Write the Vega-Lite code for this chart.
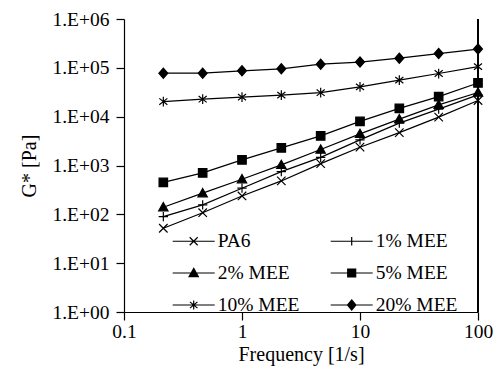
{
  "$schema": "https://vega.github.io/schema/vega-lite/v6.json",
  "width": 354,
  "height": 293,
  "autosize": "none",
  "padding": {"left": 124, "top": 19, "right": 21, "bottom": 63},
  "background": "white",
  "config": {
    "view": {"stroke": null},
    "font": "Liberation Serif",
    "axis": {
      "grid": false,
      "domainColor": "black",
      "domainWidth": 1.2,
      "tickColor": "black",
      "tickWidth": 1.2,
      "tickSize": 8,
      "labelColor": "black",
      "labelFont": "Liberation Serif",
      "labelFontSize": 19.5,
      "titleFont": "Liberation Serif",
      "titleFontSize": 20,
      "titleFontWeight": "normal",
      "titleColor": "black"
    },
    "legend": {
      "labelFont": "Liberation Serif",
      "labelFontSize": 19.5,
      "labelColor": "black"
    },
    "point": {"filled": true, "color": "black", "stroke": "black", "strokeWidth": 1.2, "size": 72, "opacity": 1}
  },
  "data": {
    "values": [
      {"series": "PA6", "freq": 0.2154, "g": 51.9},
      {"series": "PA6", "freq": 0.4642, "g": 108},
      {"series": "PA6", "freq": 1, "g": 238},
      {"series": "PA6", "freq": 2.154, "g": 483},
      {"series": "PA6", "freq": 4.642, "g": 1090},
      {"series": "PA6", "freq": 10, "g": 2371},
      {"series": "PA6", "freq": 21.54, "g": 4720},
      {"series": "PA6", "freq": 46.42, "g": 9770},
      {"series": "PA6", "freq": 100, "g": 21400},

      {"series": "1% MEE", "freq": 0.2154, "g": 89.7},
      {"series": "1% MEE", "freq": 0.4642, "g": 156},
      {"series": "1% MEE", "freq": 1, "g": 343},
      {"series": "1% MEE", "freq": 2.154, "g": 750},
      {"series": "1% MEE", "freq": 4.642, "g": 1470},
      {"series": "1% MEE", "freq": 10, "g": 3350},
      {"series": "1% MEE", "freq": 21.54, "g": 7360},
      {"series": "1% MEE", "freq": 46.42, "g": 14260},
      {"series": "1% MEE", "freq": 100, "g": 28000},

      {"series": "2% MEE", "freq": 0.2154, "g": 140},
      {"series": "2% MEE", "freq": 0.4642, "g": 271},
      {"series": "2% MEE", "freq": 1, "g": 524},
      {"series": "2% MEE", "freq": 2.154, "g": 1029},
      {"series": "2% MEE", "freq": 4.642, "g": 2120},
      {"series": "2% MEE", "freq": 10, "g": 4440},
      {"series": "2% MEE", "freq": 21.54, "g": 8890},
      {"series": "2% MEE", "freq": 46.42, "g": 17460},
      {"series": "2% MEE", "freq": 100, "g": 31200},

      {"series": "5% MEE", "freq": 0.2154, "g": 450},
      {"series": "5% MEE", "freq": 0.4642, "g": 705},
      {"series": "5% MEE", "freq": 1, "g": 1303},
      {"series": "5% MEE", "freq": 2.154, "g": 2300},
      {"series": "5% MEE", "freq": 4.642, "g": 4043},
      {"series": "5% MEE", "freq": 10, "g": 8000},
      {"series": "5% MEE", "freq": 21.54, "g": 14800},
      {"series": "5% MEE", "freq": 46.42, "g": 25800},
      {"series": "5% MEE", "freq": 100, "g": 49000},

      {"series": "10% MEE", "freq": 0.2154, "g": 20400},
      {"series": "10% MEE", "freq": 0.4642, "g": 22800},
      {"series": "10% MEE", "freq": 1, "g": 25100},
      {"series": "10% MEE", "freq": 2.154, "g": 27600},
      {"series": "10% MEE", "freq": 4.642, "g": 31000},
      {"series": "10% MEE", "freq": 10, "g": 40800},
      {"series": "10% MEE", "freq": 21.54, "g": 56000},
      {"series": "10% MEE", "freq": 46.42, "g": 76500},
      {"series": "10% MEE", "freq": 100, "g": 106000},

      {"series": "20% MEE", "freq": 0.2154, "g": 77800},
      {"series": "20% MEE", "freq": 0.4642, "g": 77800},
      {"series": "20% MEE", "freq": 1, "g": 86900},
      {"series": "20% MEE", "freq": 2.154, "g": 95500},
      {"series": "20% MEE", "freq": 4.642, "g": 119000},
      {"series": "20% MEE", "freq": 10, "g": 131000},
      {"series": "20% MEE", "freq": 21.54, "g": 158000},
      {"series": "20% MEE", "freq": 46.42, "g": 196000},
      {"series": "20% MEE", "freq": 100, "g": 242000}
    ]
  },
  "encoding": {
    "x": {
      "field": "freq",
      "type": "quantitative",
      "scale": {"type": "log", "domain": [0.1, 100], "nice": false},
      "axis": {
        "title": "Frequency [1/s]",
        "labelFont": "Liberation Serif",
        "titleFont": "Liberation Serif",
        "values": [0.1, 1, 10, 100],
        "labelExpr": "datum.value < 0.5 ? '0.1' : format(datum.value, 'd')",
        "labelPadding": 2,
        "titlePadding": 4,
        "labelFlush": false,
        "labelOverlap": false
      }
    },
    "y": {
      "field": "g",
      "type": "quantitative",
      "scale": {"type": "log", "domain": [1, 1000000], "nice": false},
      "axis": {
        "title": "G* [Pa]",
        "labelFont": "Liberation Serif",
        "titleFont": "Liberation Serif",
        "titleColor": "#000000",
        "values": [1, 10, 100, 1000, 10000, 100000, 1000000],
        "labelExpr": "'1.E+0' + round(log(datum.value) / LN10)",
        "labelPadding": 7,
        "titlePadding": 12,
        "labelFlush": false,
        "labelOverlap": false
      }
    }
  },
  "layer": [
    {
      "mark": {"type": "rule", "color": "black", "strokeWidth": 1.2},
      "encoding": {"x": {"datum": 100}, "y": null}
    },
    {
      "mark": {"type": "line", "strokeWidth": 1.2},
      "encoding": {
        "detail": {"field": "series", "type": "nominal"},
        "order": {"field": "freq", "type": "quantitative"},
        "color": {
          "field": "series",
          "type": "nominal",
          "scale": {
            "domain": ["PA6", "1% MEE", "2% MEE", "5% MEE", "10% MEE", "20% MEE"],
            "range": ["black", "black", "black", "black", "black", "black"]
          },
          "legend": {
            "title": null,
            "orient": "none",
            "legendX": 47.7,
            "legendY": 200,
            "direction": "horizontal",
            "columns": 2,
            "padding": 0,
            "rowPadding": -4.5,
            "columnPadding": 28,
            "symbolSize": 1764,
            "symbolFillColor": "black",
            "symbolStrokeColor": "black",
            "symbolStrokeWidth": 1.2,
            "symbolOpacity": 1,
            "labelOffset": 2,
            "symbolType": {"expr": "datum.value === 'PA6' ? 'M-1,0H1M-0.19,-0.19L0.19,0.19M-0.19,0.19L0.19,-0.19' : datum.value === '1% MEE' ? 'M-1,0H1M0,-0.2V0.2' : datum.value === '2% MEE' ? 'M-1,0H1M0,-0.22L0.22,0.17L-0.22,0.17Z' : datum.value === '5% MEE' ? 'M-1,0H1M-0.19,-0.19H0.19V0.19H-0.19Z' : datum.value === '10% MEE' ? 'M-1,0H1M0,-0.22V0.22M-0.18,-0.15L0.18,0.15M-0.18,0.15L0.18,-0.15' : 'M-1,0H1M0,-0.24L0.2,0L0,0.24L-0.2,0Z'"}
          }
        }
      }
    },
    {
      "transform": [{"filter": "datum.series === 'PA6'"}],
      "mark": {"type": "point", "shape": "M-1,-1L1,1M-1,1L1,-1"},
      "encoding": {}
    },
    {
      "transform": [{"filter": "datum.series === '1% MEE'"}],
      "mark": {"type": "point", "shape": "M-1.1,0H1.1M0,-1.1V1.1"},
      "encoding": {}
    },
    {
      "transform": [{"filter": "datum.series === '2% MEE'"}],
      "mark": {"type": "point", "shape": "M0,-1.1L1.1,0.85L-1.1,0.85Z"},
      "encoding": {}
    },
    {
      "transform": [{"filter": "datum.series === '5% MEE'"}],
      "mark": {"type": "point", "shape": "M-1,-1H1V1H-1Z"},
      "encoding": {}
    },
    {
      "transform": [{"filter": "datum.series === '10% MEE'"}],
      "mark": {"type": "point", "shape": "M0,-1.15V1.15M-0.95,-0.75L0.95,0.75M-0.95,0.75L0.95,-0.75"},
      "encoding": {}
    },
    {
      "transform": [{"filter": "datum.series === '20% MEE'"}],
      "mark": {"type": "point", "shape": "M0,-1.2L1.05,0L0,1.2L-1.05,0Z"},
      "encoding": {}
    }
  ]
}
